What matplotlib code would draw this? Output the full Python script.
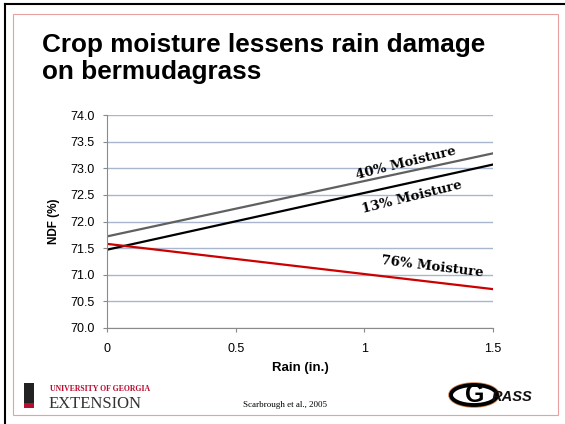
import numpy as np
import matplotlib.pyplot as plt
from matplotlib.patches import Rectangle, Ellipse

# data
rain = [0, 1.5]
moist40 = [71.72, 73.28]
moist13 = [71.47, 73.07]
moist76 = [71.58, 70.73]
yticks = [70.0, 70.5, 71.0, 71.5, 72.0, 72.5, 73.0, 73.5, 74.0]
xticks = [0, 0.5, 1, 1.5]
xticklabels = ['0', '0.5', '1', '1.5']

W, H = 565, 424
fig = plt.figure(figsize=(W / 100, H / 100), dpi=100)

def fx(px):
    return px / W

def fy(py):
    return 1 - py / H

# slide frame
fig.patches.append(plt.Line2D([fx(5), fx(5)], [0, fy(4)], transform=fig.transFigure, color='black', lw=1.5))
fig.patches.append(plt.Line2D([fx(5), 1], [fy(4), fy(4)], transform=fig.transFigure, color='black', lw=1.5))
fig.patches.append(Rectangle((fx(13), fy(415)), fx(558) - fx(13), fy(14) - fy(415),
                             transform=fig.transFigure, fill=False, ec='#E8A0A0', lw=0.8))

title_kw = dict(fontsize=18.8, fontweight='bold', family='Liberation Sans', va='baseline', ha='left')
fig.text(fx(42), fy(52), 'Crop moisture lessens rain damage', **title_kw)
fig.text(fx(42), fy(79), 'on bermudagrass', **title_kw)

ax = fig.add_axes([fx(107), fy(328), fx(493) - fx(107), fy(115) - fy(328)])
ax.plot(rain, moist40, color='#606060', lw=1.6)
ax.plot(rain, moist13, color='black', lw=1.6)
ax.plot(rain, moist76, color='#CC0000', lw=1.6)
ax.set_xlim(0, 1.5)
ax.set_ylim(70, 74)
ax.set_yticks(yticks)
ax.set_yticklabels(['%.1f' % v for v in yticks])
ax.set_xticks(xticks)
ax.set_xticklabels(xticklabels)
ax.yaxis.grid(True, color='#A8B6CE', lw=1.0)
ax.set_axisbelow(True)
for s in ['top', 'right']:
    ax.spines[s].set_visible(False)
ax.spines['left'].set_color('#8A8A8A')
ax.spines['bottom'].set_color('#8A8A8A')
ax.tick_params(axis='y', length=3, color='#8A8A8A', labelsize=9, pad=6)
ax.tick_params(axis='x', length=3, color='#8A8A8A', labelsize=9, pad=8)
for lab in ax.get_xticklabels() + ax.get_yticklabels():
    lab.set_family('Liberation Sans')
ax.set_xlabel('Rain (in.)', fontsize=9.5, fontweight='bold', family='Liberation Sans', labelpad=5)
ax.set_ylabel('NDF (%)', fontsize=8.5, fontweight='bold', family='Liberation Sans', labelpad=7)

lab_kw = dict(fontsize=9.5, fontweight='bold', family='DejaVu Serif', ha='center', va='center',
              rotation_mode='anchor')
ax.text(1.16, 73.1, '40% Moisture', rotation=14, **lab_kw)
ax.text(1.185, 72.46, '13% Moisture', rotation=14, **lab_kw)
ax.text(1.265, 71.15, '76% Moisture', rotation=-7, **lab_kw)

# footer
fig.text(fx(285), fy(407), 'Scarbrough et al., 2005', fontsize=6.5, family='Liberation Serif',
         ha='center', va='baseline')
# UGA extension mark
fig.patches.append(Rectangle((fx(24), fy(403)), fx(10), fy(383) - fy(403), transform=fig.transFigure,
                             fc='#222222', ec='none'))
fig.patches.append(Rectangle((fx(24), fy(408)), fx(10), fy(403) - fy(408), transform=fig.transFigure,
                             fc='#BA0C2F', ec='none'))
fig.text(fx(50), fy(391), 'UNIVERSITY OF GEORGIA', fontsize=5.6, fontweight='bold', color='#BA0C2F',
         family='Liberation Serif', ha='left', va='baseline')
fig.text(fx(49), fy(408), 'EXTENSION', fontsize=12, color='#333333', family='Liberation Serif',
         ha='left', va='baseline')
# GRASS mark
fig.patches.append(Ellipse((fx(474), fy(395)), fx(46), fy(385) - fy(405), transform=fig.transFigure,
                           fc='white', ec='#D08050', lw=4.0))
fig.patches.append(Ellipse((fx(474), fy(395)), fx(46), fy(385) - fy(405), transform=fig.transFigure,
                           fc='white', ec='black', lw=2.8))
fig.text(fx(475), fy(395.5), 'G', fontsize=18, fontweight='bold', color='black', family='Liberation Sans',
         ha='center', va='center')
fig.text(fx(492), fy(401), 'RASS', fontsize=10.5, fontweight='bold', style='italic', color='#111111',
         family='Liberation Sans', ha='left', va='baseline')

fig.savefig('out.png', dpi=100)
